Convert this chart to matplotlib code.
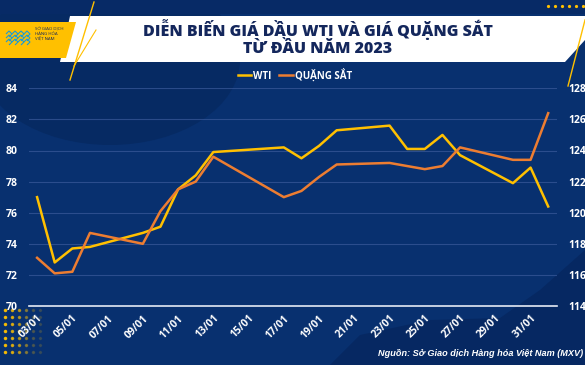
import numpy as np
import pandas as pd
import matplotlib.pyplot as plt
import matplotlib.dates as mdates
from matplotlib.patches import Polygon, Ellipse

# Data (trading days, Jan 2023 - 01/02)
dates = ['2023-01-03', '2023-01-04', '2023-01-05', '2023-01-06', '2023-01-09',
         '2023-01-10', '2023-01-11', '2023-01-12', '2023-01-13', '2023-01-17',
         '2023-01-18', '2023-01-19', '2023-01-20', '2023-01-23', '2023-01-24',
         '2023-01-25', '2023-01-26', '2023-01-27', '2023-01-30', '2023-01-31',
         '2023-02-01']
wti = [77.0, 72.8, 73.7, 73.8, 74.7, 75.1, 77.5, 78.4, 79.9, 80.2,
       79.5, 80.3, 81.3, 81.6, 80.1, 80.1, 81.0, 79.7, 77.9, 78.9, 76.4]
iron_ore = [117.1, 116.1, 116.2, 118.7, 118.0, 120.1, 121.5, 122.0, 123.6, 121.0,
            121.4, 122.3, 123.1, 123.2, 123.0, 122.8, 123.0, 124.2, 123.4, 123.4, 126.4]

left_ticks = [70, 72, 74, 76, 78, 80, 82, 84]
right_ticks = [114, 116, 118, 120, 122, 124, 126, 128]

title_1 = 'DIỄN BIẾN GIÁ DẦU WTI VÀ GIÁ QUẶNG SẮT'
title_2 = 'TỪ ĐẦU NĂM 2023'
source = 'Nguồn: Sở Giao dịch Hàng hóa Việt Nam (MXV)'

x = pd.to_datetime(dates)

bg = '#08306f'
navy_text = '#14275c'
yellow = '#ffc000'
orange = '#ed7d31'

plt.rcParams['font.family'] = ['Open Sans', 'DejaVu Sans']

fig = plt.figure(figsize=(5.85, 3.65), dpi=100, facecolor=bg)

# background decorations in pixel-like coordinates
deco = fig.add_axes([0, 0, 1, 1], zorder=0)
deco.set_xlim(0, 585)
deco.set_ylim(365, 0)
deco.axis('off')
deco.add_patch(Ellipse((110, 60), 260, 170, color='#062a63', lw=0))
deco.add_patch(Polygon([[330, 365], [360, 335], [430, 320], [500, 318], [540, 290],
                        [585, 250], [585, 365]], closed=True, color='#062862', lw=0))
deco.add_patch(Polygon([[0, 0], [585, 0], [585, 14], [0, 14]], closed=True, color='#072a66', lw=0))
# white title banner
deco.add_patch(Polygon([[70, 16], [585, 16], [585, 40], [565, 62], [60, 62]],
                       closed=True, color='white', lw=0))
# logo box
deco.add_patch(Polygon([[4, 22], [76, 22], [66, 58], [0, 58], [0, 22]],
                       closed=True, color=yellow, lw=0))
for i in range(4):
    for j in range(3):
        deco.add_patch(Polygon([[6 + i * 6, 34 + j * 4], [9 + i * 6, 31 + j * 4],
                                [12 + i * 6, 34 + j * 4], [9 + i * 6, 37 + j * 4]],
                               closed=False, fill=False, ec='#1a9ad6', lw=0.8))
deco.text(35, 34, 'SỞ GIAO DỊCH\nHÀNG HÓA\nVIỆT NAM', fontsize=3.2, color=navy_text,
          va='center', ha='left', linespacing=1.2)
# yellow slanted stripes
deco.plot([70, 94], [80, 2], color=yellow, lw=1.0)
deco.plot([74, 96], [66, 30], color=yellow, lw=0.8)
deco.plot([568, 585], [86, 20], color=yellow, lw=1.0)
# dots
for i in range(6):
    for j in range(7):
        deco.plot(5 + i * 7, 310 + j * 7, 'o', ms=1.5, color=yellow, alpha=max(0.12, 0.9 - i * 0.18))
for i in range(6):
    deco.plot(548 + i * 7, 6, 'o', ms=1.3, color=yellow)

deco.text(318, 30, title_1, fontsize=11.5, fontweight='heavy', color=navy_text,
          ha='center', va='center')
deco.text(318, 49, title_2, fontsize=11.5, fontweight='heavy', color=navy_text,
          ha='center', va='center')
deco.text(583, 353, source, fontsize=6.6, fontweight='bold', style='italic',
          color='white', ha='right', va='center', family=['Liberation Sans', 'DejaVu Sans'])

# main chart
ax = fig.add_axes([29 / 585, 1 - 306 / 365, (557 - 29) / 585, (306 - 88.3) / 365], zorder=2)
ax.patch.set_alpha(0)
ax2 = ax.twinx()

l1, = ax.plot(x, wti, color=yellow, lw=1.8, label='WTI', solid_joinstyle='round')
l2, = ax2.plot(x, iron_ore, color=orange, lw=1.8, label='QUẶNG SẮT', solid_joinstyle='round')

ax.set_ylim(70, 84)
ax2.set_ylim(114, 128)
ax.set_yticks(left_ticks)
ax2.set_yticks(right_ticks)

start = x[0]
ax.set_xlim(start - pd.Timedelta(hours=11), start + pd.Timedelta(days=29.5))
ax.set_xticks(pd.date_range('2023-01-03', '2023-01-31', freq='2D'))
ax.xaxis.set_major_formatter(mdates.DateFormatter('%d/%m'))

for a in (ax, ax2):
    for s in a.spines.values():
        s.set_visible(False)
    a.tick_params(length=0, colors='white', labelsize=7.5)
    for lab in a.get_yticklabels():
        lab.set_fontweight('bold')

ax.spines['bottom'].set_visible(True)
ax.spines['bottom'].set_color('#e6ebf5')
ax.spines['bottom'].set_linewidth(1.2)
ax.tick_params(axis='y', pad=8)
ax2.tick_params(axis='y', pad=8)
ax.tick_params(axis='x', pad=5)
for lab in ax.get_xticklabels():
    lab.set_rotation(45)
    lab.set_ha('right')
    lab.set_rotation_mode('anchor')
    lab.set_fontweight('bold')

ax.grid(axis='y', color='#3a5a9a', lw=0.8, alpha=0.7)
ax.set_axisbelow(True)

leg = fig.legend([l1, l2], ['WTI', 'QUẶNG SẮT'], loc='center', bbox_to_anchor=(295 / 585, 1 - 75 / 365),
                 ncol=2, frameon=False, fontsize=7, handlelength=1.4, handletextpad=0.2,
                 columnspacing=0.8)
for t in leg.get_texts():
    t.set_color('white')
    t.set_fontweight('bold')

fig.savefig('out.png', dpi=100, facecolor=bg)
